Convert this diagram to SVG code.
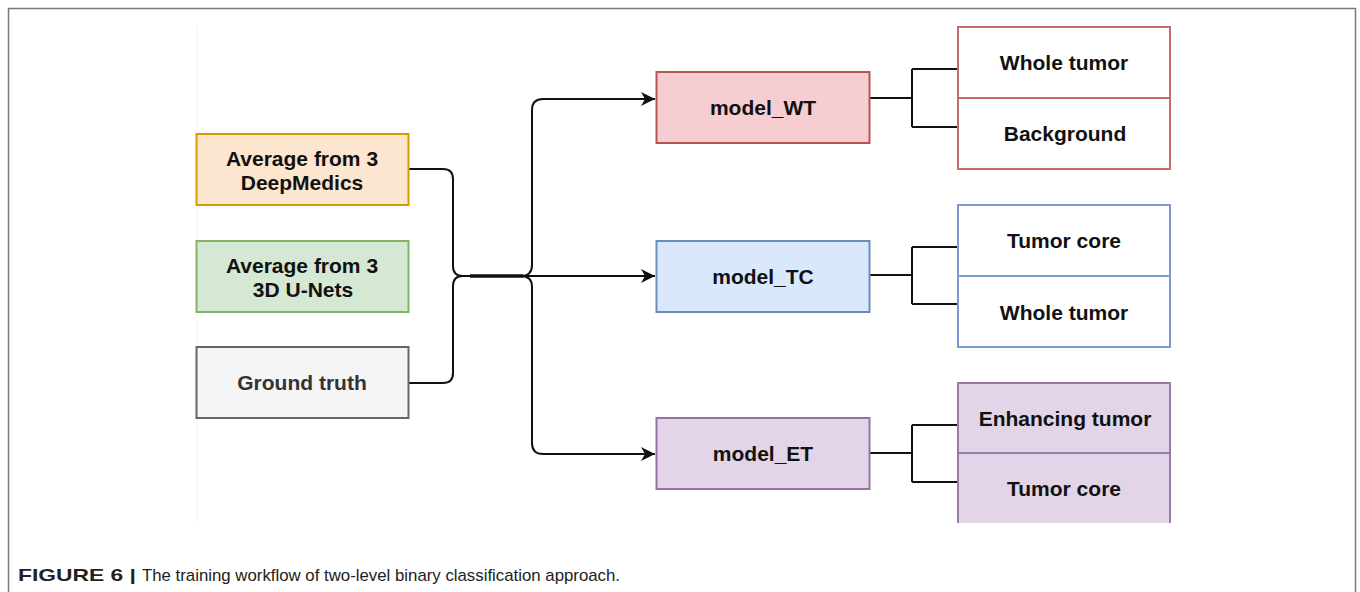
<svg xmlns="http://www.w3.org/2000/svg" width="1360" height="592" viewBox="0 0 1360 592">
<defs>
<style>
.lbl{font-family:"Liberation Sans",Arial,sans-serif;font-weight:bold;font-size:21px;text-anchor:middle;fill:#111111}
.gray{fill:#333333}
.edge{fill:none;stroke:#111111;stroke-width:2}
.cap{font-family:"Liberation Sans",Arial,sans-serif;font-size:17px;fill:#222222}
</style>
<marker id="arr" markerUnits="userSpaceOnUse" markerWidth="16" markerHeight="16" viewBox="0 0 16 16" refX="14" refY="8" orient="auto">
<path d="M0,1 L14,8 L0,15 L4,8 Z" fill="#111111"/>
</marker>
</defs>
<rect x="0" y="0" width="1360" height="592" fill="#ffffff"/>
<rect x="8.5" y="8.5" width="1347" height="600" fill="#ffffff" stroke="#7a7a7a" stroke-width="1.5"/>
<line x1="197" y1="25" x2="197" y2="523" stroke="#f3f3f3" stroke-width="1"/>

<g id="connectors">
<path class="edge" d="M409,169 H443 Q453,169 453,179 V266 Q453,276 463,276 H470"/>
<path class="edge" d="M409,383 H443 Q453,383 453,373 V286 Q453,276 463,276"/>
<path d="M470,276 H523" stroke="#111111" stroke-width="3.5" fill="none"/>
<path class="edge" d="M521,276 Q532,276 532,265 V110 Q532,99 543,99 H655" marker-end="url(#arr)"/>
<path class="edge" d="M470,276 H655" marker-end="url(#arr)"/>
<path class="edge" d="M521,276 Q532,276 532,287 V443 Q532,454 543,454 H655" marker-end="url(#arr)"/>
<path class="edge" d="M870,98 H912 M912,69 V127 M912,69 H958 M912,127 H958"/>
<path class="edge" d="M870,275 H912 M912,247 V304 M912,247 H958 M912,304 H958"/>
<path class="edge" d="M870,453 H912 M912,425 V482 M912,425 H958 M912,482 H958"/>
</g>

<g id="avg-deepmedics">
<rect x="196.5" y="134" width="212" height="71" fill="#fde6cf" stroke="#d79b00" stroke-width="2"/>
<text class="lbl" x="302" y="166">Average from 3</text>
<text class="lbl" x="302" y="190">DeepMedics</text>
</g>
<g id="avg-unets">
<rect x="196.5" y="241" width="212" height="71" fill="#d5e8d4" stroke="#82b366" stroke-width="2"/>
<text class="lbl" x="302" y="273">Average from 3</text>
<text class="lbl" x="303" y="297">3D U-Nets</text>
</g>
<g id="ground-truth">
<rect x="196.5" y="347" width="212" height="71" fill="#f5f5f5" stroke="#666666" stroke-width="2"/>
<text class="lbl gray" x="302" y="390">Ground truth</text>
</g>

<g id="model-wt">
<rect x="656.5" y="72" width="213" height="71" fill="#f6cdd0" stroke="#b85450" stroke-width="2"/>
<text class="lbl" x="763" y="115">model_WT</text>
</g>
<g id="model-tc">
<rect x="656.5" y="241" width="213" height="71" fill="#dae8fc" stroke="#6c8ebf" stroke-width="2"/>
<text class="lbl" x="763" y="284">model_TC</text>
</g>
<g id="model-et">
<rect x="656.5" y="418" width="213" height="71" fill="#e1d5e7" stroke="#9673a6" stroke-width="2"/>
<text class="lbl" x="763" y="461">model_ET</text>
</g>

<g id="wt-outputs">
<rect x="958" y="27" width="212" height="142" fill="#ffffff" stroke="#c8696a" stroke-width="2"/>
<line x1="958" y1="98" x2="1170" y2="98" stroke="#c8696a" stroke-width="2"/>
<text class="lbl" x="1064" y="70">Whole tumor</text>
<text class="lbl" x="1065" y="141">Background</text>
</g>
<g id="tc-outputs">
<rect x="958" y="205" width="212" height="142" fill="#ffffff" stroke="#7c9bd0" stroke-width="2"/>
<line x1="958" y1="276" x2="1170" y2="276" stroke="#7c9bd0" stroke-width="2"/>
<text class="lbl" x="1064" y="248">Tumor core</text>
<text class="lbl" x="1064" y="320">Whole tumor</text>
</g>
<g id="et-outputs">
<rect x="958" y="383" width="212" height="140" fill="#e1d5e7"/>
<path d="M958,523 V383 H1170 V523" fill="none" stroke="#9a7aaa" stroke-width="2"/>
<line x1="958" y1="453" x2="1170" y2="453" stroke="#9a7aaa" stroke-width="2"/>
<text class="lbl" x="1065" y="426">Enhancing tumor</text>
<text class="lbl" x="1064" y="496">Tumor core</text>
</g>

<g id="caption">
<text class="cap" x="18" y="581" font-weight="bold" textLength="118" lengthAdjust="spacingAndGlyphs">FIGURE 6 |</text>
<text class="cap" x="142" y="581" textLength="478" lengthAdjust="spacingAndGlyphs">The training workflow of two-level binary classification approach.</text>
</g>
</svg>
